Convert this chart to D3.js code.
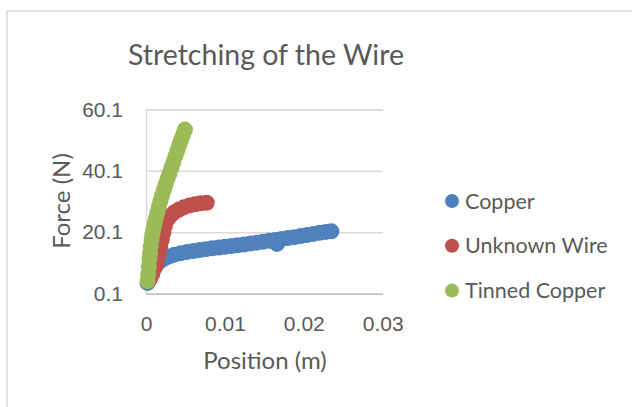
<!DOCTYPE html>
<html>
<head>
<meta charset="utf-8">
<script src="https://cdn.jsdelivr.net/npm/d3@7"></script>
<style>
  body { margin: 0; background: #fff; }
  svg { display: block; font-family: Lato, "Open Sans", sans-serif; }
  .tick text { fill: #595959; }
</style>
</head>
<body>
<svg id="drawing_region"></svg>
<script>
// series: [position (m), force (N)]
const copper = [
  [0.0002, 3.6], [0.0004, 5.0], [0.0006, 6.4], [0.0008, 7.6], [0.0011, 8.8],
  [0.0014, 9.8], [0.0018, 10.7], [0.0023, 11.5], [0.0029, 12.2], [0.0036, 12.8],
  [0.0044, 13.3], [0.0052, 13.7], [0.0060, 14.0], [0.0068, 14.3], [0.0076, 14.6],
  [0.0084, 14.85], [0.0092, 15.1], [0.0100, 15.35], [0.0108, 15.6], [0.0116, 15.85],
  [0.0124, 16.1], [0.0132, 16.4], [0.0140, 16.7], [0.0148, 17.0], [0.0156, 17.3],
  [0.0164, 17.6], [0.0166, 16.3], [0.0172, 17.9], [0.0180, 18.2], [0.0188, 18.5],
  [0.0196, 18.85], [0.0204, 19.2], [0.0212, 19.55], [0.0220, 19.9], [0.0228, 20.2],
  [0.0235, 20.4]
];
const unknownWire = [
  [0.0005, 4.8], [0.0008, 6.5], [0.0011, 8.5], [0.0014, 10.5], [0.0016, 12.8],
  [0.0018, 15.2], [0.0020, 17.6], [0.0022, 20.0], [0.0024, 22.2], [0.0027, 24.2],
  [0.0031, 25.5], [0.0036, 26.6], [0.0042, 27.5], [0.0048, 28.2], [0.0055, 28.8],
  [0.0062, 29.2], [0.0069, 29.5], [0.0077, 29.7]
];
const tinnedCopper = [
  [0.00020, 4.2], [0.00028, 6.5], [0.00036, 9.0], [0.00044, 11.5], [0.00052, 13.5],
  [0.00060, 15.5], [0.00070, 17.5], [0.00080, 19.3], [0.00093, 21.0], [0.00108, 22.8],
  [0.00125, 24.6], [0.00143, 26.4], [0.00162, 28.3], [0.00182, 30.2], [0.00203, 32.0],
  [0.00225, 33.8], [0.00248, 35.6], [0.00272, 37.4], [0.00297, 39.2], [0.00322, 41.0],
  [0.00347, 42.9], [0.00372, 44.8], [0.00397, 46.7], [0.00422, 48.5], [0.00447, 50.2],
  [0.00470, 51.9], [0.00494, 53.5]
];
const seriesNames = ["Copper", "Unknown Wire", "Tinned Copper"];
const seriesColors = ["#4f81bd", "#c0504d", "#9bbb59"];
const xTicks = [0, 0.01, 0.02, 0.03];
const xTickLabels = ["0", "0.01", "0.02", "0.03"];
const yTicks = [0.1, 20.1, 40.1, 60.1];
const yTickLabels = ["0.1", "20.1", "40.1", "60.1"];

const width = 632, height = 407;
const margin = {top: 109.3, left: 146, right: 632 - 382.7, bottom: 407 - 293.7};
const innerW = width - margin.left - margin.right;
const innerH = height - margin.top - margin.bottom;

const svg = d3.select('#drawing_region')
  .attr('width', width)
  .attr('height', height);

// chart frame
svg.append('rect')
  .attr('x', 7).attr('y', 11)
  .attr('width', width + 10).attr('height', height + 10)
  .attr('fill', '#fff')
  .attr('stroke', '#d9d9d9')
  .attr('stroke-width', 1.5);

svg.append('text')
  .attr('x', 266).attr('y', 65)
  .attr('text-anchor', 'middle')
  .attr('fill', '#595959')
  .attr('font-size', 28.5)
  .text('Stretching of the Wire');

const chart = svg.append('g')
  .attr('transform', `translate(${margin.left}, ${margin.top})`);

const xscale = d3.scaleLinear().domain([0, 0.03]).range([0, innerW]);
const yscale = d3.scaleLinear().domain([0.1, 60.1]).range([innerH, 0]);

// gridlines + y labels
const yaxis = d3.axisLeft(yscale)
  .tickValues(yTicks)
  .tickFormat((d, i) => yTickLabels[i])
  .tickSize(-innerW)
  .tickPadding(23);
const yg = chart.append('g').call(yaxis);
yg.select('.domain').attr('stroke', '#d9d9d9').attr('stroke-width', 1.5);
yg.selectAll('.tick line').attr('stroke', '#d9d9d9').attr('stroke-width', 1.5);
yg.selectAll('.tick text').attr('font-size', 21);

const xaxis = d3.axisBottom(xscale)
  .tickValues(xTicks)
  .tickFormat((d, i) => xTickLabels[i])
  .tickSize(0)
  .tickPadding(22);
const xg = chart.append('g')
  .attr('transform', `translate(0, ${innerH})`)
  .call(xaxis);
xg.select('.domain').attr('stroke', '#bfbfbf').attr('stroke-width', 1.5);
xg.selectAll('.tick text').attr('font-size', 21);

// axis titles
svg.append('text')
  .attr('x', 265).attr('y', 369)
  .attr('text-anchor', 'middle')
  .attr('fill', '#595959')
  .attr('font-size', 24)
  .text('Position (m)');

svg.append('text')
  .attr('transform', 'translate(70, 201) rotate(-90)')
  .attr('text-anchor', 'middle')
  .attr('fill', '#595959')
  .attr('font-size', 24)
  .text('Force (N)');

// series markers
[copper, unknownWire, tinnedCopper].forEach((data, i) => {
  chart.append('g')
    .selectAll('circle')
    .data(data)
    .join('circle')
    .attr('cx', d => xscale(d[0]))
    .attr('cy', d => yscale(d[1]))
    .attr('r', 8)
    .attr('fill', seriesColors[i]);
});

// legend
const legend = svg.append('g').attr('transform', 'translate(452, 201)');
const items = legend.selectAll('g')
  .data(seriesNames)
  .join('g')
  .attr('transform', (d, i) => `translate(0, ${i * 44.8})`);
items.append('circle')
  .attr('r', 7)
  .attr('fill', (d, i) => seriesColors[i]);
items.append('text')
  .attr('x', 13)
  .attr('dy', '0.35em')
  .attr('fill', '#595959')
  .attr('font-size', 21.5)
  .text(d => d);
</script>
</body>
</html>
